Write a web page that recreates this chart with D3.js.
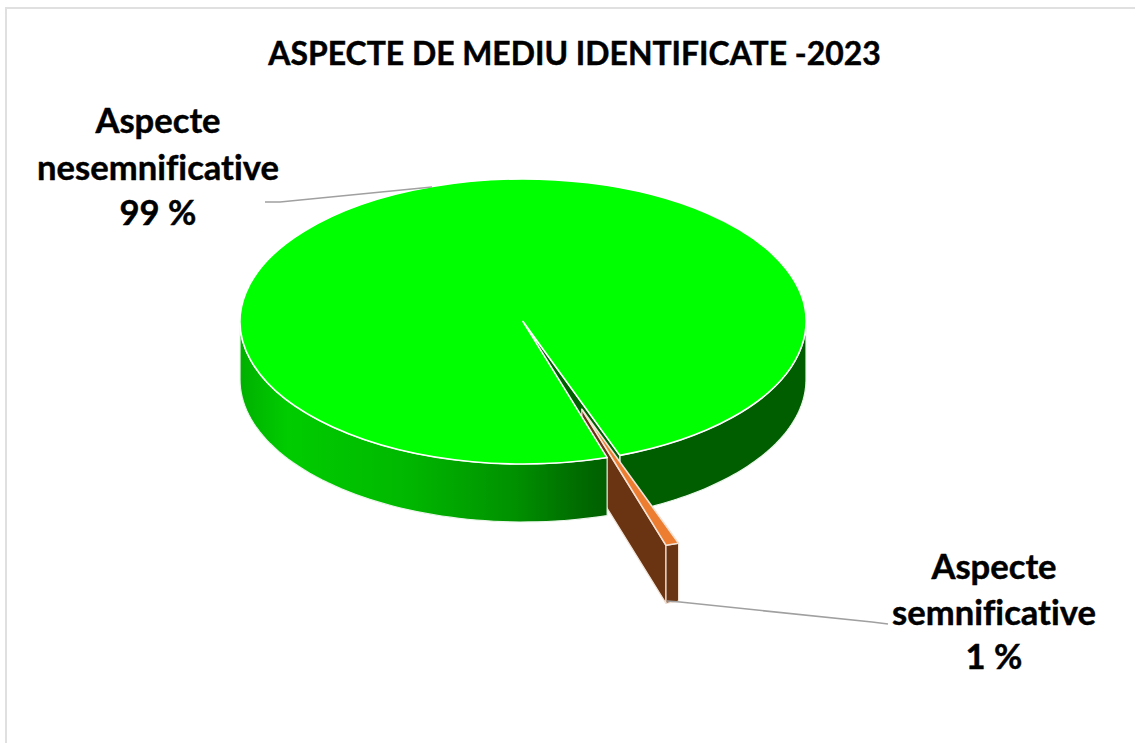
<!DOCTYPE html>
<html>
<head>
<meta charset="utf-8">
<script src="https://cdn.jsdelivr.net/npm/d3@7"></script>
<style>
html,body{margin:0;padding:0;background:#fff;overflow:hidden}
text{font-family:Lato,"Noto Sans",sans-serif;font-weight:700;fill:#000;text-anchor:middle;font-variant-ligatures:none;stroke:#000;stroke-width:.45px}
</style>
</head>
<body>
<script>
// Data
const chartTitle = "ASPECTE DE MEDIU IDENTIFICATE -2023";
const categories = ["Aspecte semnificative", "Aspecte nesemnificative"];
const seriesValues = [0.75, 99.25];
const labelLines = [["Aspecte", "semnificative"], ["Aspecte", "nesemnificative"]];

// Layout and style
const W = 1135, H = 744;
const cx = 523, cy = 321.5, rx = 283, ry = 142.5, depth = 58;
const startAngle = 160 * Math.PI / 180;
const explode = [0.65, 0];
const topColors = ["#ed7d31", "#00ff00"];
const sideBrown = "#6a3412", sideDark = "#005e00";
const labelPos = [
  {x: 994, y: [579, 625, 669]},
  {x: 158, y: [133, 180, 225]}
];
const leaders = [
  [[667, 601], [680, 602], [872, 622], [888, 624]],
  [[432, 187], [280, 202], [265, 202]]
];
const fmtPct = d3.format(".0f");

const svg = d3.select("body").append("svg").attr("width", W).attr("height", H).style("display", "block");

// Frame
svg.append("path").attr("d", d3.line()([[6, H - 1], [6, 8], [W, 8]]))
  .attr("fill", "none").attr("stroke", "#e0e0e0").attr("stroke-width", 2);

const grad = svg.append("defs").append("linearGradient").attr("id", "frontGreen")
  .attr("gradientUnits", "userSpaceOnUse")
  .attr("x1", cx - rx).attr("x2", 608).attr("y1", 0).attr("y2", 0);
[[0, "#00b000"], [0.13, "#00cc00"], [0.45, "#00b800"], [0.75, "#009000"], [0.92, "#006c00"], [1, "#005e00"]]
  .forEach(([o, c]) => grad.append("stop").attr("offset", o).attr("stop-color", c));

const slices = d3.pie().sort(null)
  .startAngle(startAngle).endAngle(startAngle + 2 * Math.PI)(seriesValues);

slices.forEach((s, i) => {
  const mid = (s.startAngle + s.endAngle) / 2;
  s.ox = cx + explode[i] * rx * Math.sin(mid);
  s.oy = cy - explode[i] * ry * Math.cos(mid);
});

const px = (s, a) => s.ox + rx * Math.sin(a);
const py = (s, a) => s.oy - ry * Math.cos(a);

// Outer wall between two angles, through a d3 area
const rimWall = (s, a0, a1) => {
  const scale = d3.scaleLinear().domain([0, 60]).range([a0, a1]);
  return d3.area()
    .x(t => px(s, scale(t)))
    .y0(t => py(s, scale(t)))
    .y1(t => py(s, scale(t)) + depth)(d3.range(0, 61));
};
// Radial cut wall at one angle
const cutWall = (s, a) => d3.line()([
  [s.ox, s.oy], [px(s, a), py(s, a)],
  [px(s, a), py(s, a) + depth], [s.ox, s.oy + depth]
]) + "Z";

const topArc = d3.arc().innerRadius(0).outerRadius(rx);
const drawTop = (s, fill) => svg.append("path")
  .attr("d", topArc(s))
  .attr("transform", `translate(${s.ox},${s.oy}) scale(1,${ry / rx})`)
  .attr("fill", fill).attr("stroke", "#fff").attr("stroke-width", 1.6)
  .attr("vector-effect", "non-scaling-stroke").attr("stroke-linejoin", "round");
const drawWall = (d, fill) => svg.append("path").attr("d", d)
  .attr("fill", fill).attr("stroke", "#e9f5e9").attr("stroke-width", 1.2).attr("stroke-linejoin", "round");

const small = slices[0], big = slices[1];
const PI = Math.PI;

// Back to front
drawWall(rimWall(big, PI / 2, small.startAngle), sideDark);
drawWall(cutWall(big, small.startAngle), sideDark);
drawWall(cutWall(small, small.endAngle), sideBrown).attr("stroke", "#f3e3d6");
drawWall(rimWall(small, small.startAngle, small.endAngle), sideBrown).attr("stroke", "#f3e3d6");
drawTop(small, topColors[0]).attr("stroke", "#f3e3d6");
drawWall(rimWall(big, big.startAngle, 1.5 * PI), "url(#frontGreen)");
drawTop(big, topColors[1]);

// Leaders
const leaderLine = d3.line().curve(d3.curveLinear);
svg.selectAll(".leader").data(leaders).join("path").attr("class", "leader")
  .attr("d", d => leaderLine(d)).attr("fill", "none")
  .attr("stroke", "#a0a0a0").attr("stroke-width", 1.7);

// Title
svg.append("text").attr("x", 574.5).attr("y", 65).attr("font-size", 31.9).text(chartTitle);

// Labels
labelLines.forEach((lines, i) => {
  const all = [...lines, fmtPct(seriesValues[i]) + " %"];
  const g = svg.append("g").attr("class", "label").attr("aria-label", categories[i]);
  all.forEach((t, k) => g.append("text")
    .attr("x", labelPos[i].x).attr("y", labelPos[i].y[k]).attr("font-size", 34.6).text(t));
});
</script>
</body>
</html>
